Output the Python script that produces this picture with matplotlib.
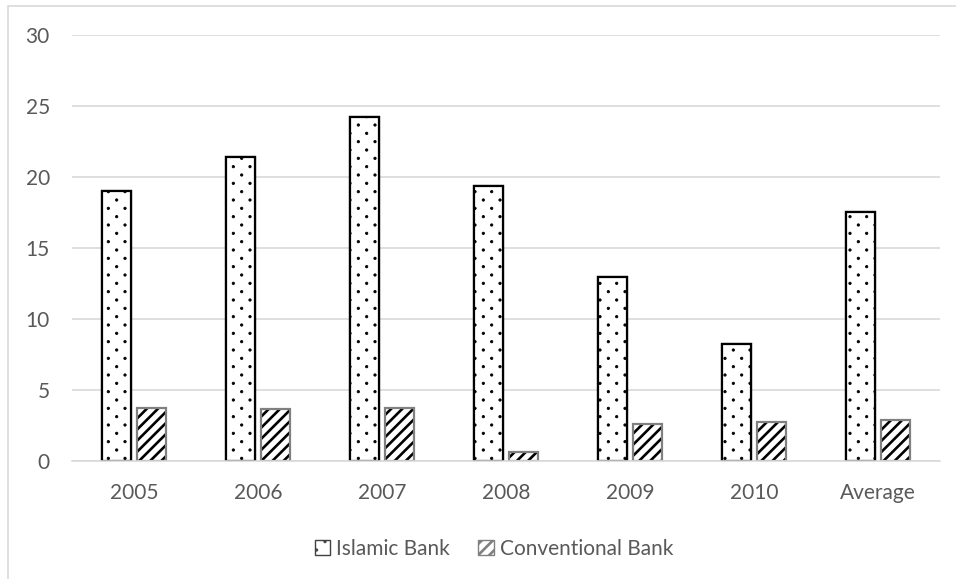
import matplotlib.pyplot as plt
import numpy as np
from matplotlib import hatch as mhatch
from matplotlib.patches import Rectangle

plt.rcParams['font.family'] = ['Lato', 'DejaVu Sans']

categories = ["2005", "2006", "2007", "2008", "2009", "2010", "Average"]
islamic = [19.0, 21.4, 24.2, 19.4, 12.95, 8.25, 17.55]
conventional = [3.75, 3.65, 3.75, 0.65, 2.6, 2.75, 2.9]

text_color = "#595959"
grid_color = "#d9d9d9"


class SparseDots(mhatch.Circles):
    """Small filled dots, staggered, twice as many rows as columns (Excel-like)."""
    size = 0.07
    filled = True

    def __init__(self, hatch, density):
        self.num_rows = hatch.count('.') * density
        super().__init__(hatch, density)
        n = self.num_rows
        if n:
            self.num_shapes = (n + 1) * (n + 1) + n * n
            self.num_vertices = self.num_shapes * len(self.shape_vertices)

    def set_vertices_and_codes(self, vertices, codes):
        n = self.num_rows
        step = 1.0 / n
        shape = self.shape_vertices * step * self.size
        parts_v, parts_c = [], []
        for row in range(2 * n + 1):
            if row % 2 == 0:
                cols = np.linspace(0, 1, n + 1)
            else:
                cols = np.linspace(step / 2, 1 - step / 2, n)
            for c in cols:
                parts_v.append(shape + [c, row * step / 2])
                parts_c.append(self.shape_codes)
        np.concatenate(parts_v, out=vertices)
        np.concatenate(parts_c, out=codes)


# swap matplotlib's '.' pattern for the sparser staggered one
mhatch._hatch_types = [SparseDots if t is mhatch.SmallFilledCircles else t
                       for t in mhatch._hatch_types]

fig = plt.figure(figsize=(9.56, 5.79), dpi=100)
ax = fig.add_axes([72 / 956, 118 / 579, 868 / 956, 426 / 579])

# chart frame (only left/top edges visible in the crop)
fig.patches.append(Rectangle((8 / 956, -0.1), 1.2, (579 - 6) / 579 + 0.1,
                             transform=fig.transFigure, fill=False,
                             edgecolor=grid_color, linewidth=1.2))

x = np.arange(len(categories))
w = 0.235
off = 0.143

# islamic bank: sparse dots, black outline
with plt.rc_context({'hatch.linewidth': 0.6}):
    ax.bar(x - off, islamic, w, color="white", edgecolor="black", hatch=".",
           linewidth=0, zorder=3)
    h1 = ax.bar(x - off, islamic, w, color="white", edgecolor="black", hatch=".",
                linewidth=1.6, zorder=2)
ax.bar(x - off, islamic, w, fill=False, edgecolor="black", linewidth=1.6, zorder=4)

# conventional bank: dense diagonal hatch, gray outline
with plt.rc_context({'hatch.linewidth': 1.9}):
    ax.bar(x + off, conventional, w, color="white", edgecolor="black", hatch="///",
           linewidth=0, zorder=3)
    h2 = ax.bar(x + off, conventional, w, color="white", edgecolor="black", hatch="///",
                linewidth=0, zorder=2)
ax.bar(x + off, conventional, w, fill=False, edgecolor="#808080", linewidth=1.6, zorder=4)

ax.set_xlim(-0.5, len(categories) - 0.5)
ax.set_ylim(0, 30)
ax.set_yticks(range(0, 31, 5))
ax.set_xticks(x)
ax.set_xticklabels(categories)
ax.grid(axis="y", color=grid_color, linewidth=1.2, zorder=0)
for s in ["top", "right", "left"]:
    ax.spines[s].set_visible(False)
ax.spines["bottom"].set_color(grid_color)
ax.spines["bottom"].set_linewidth(1.2)
ax.spines["bottom"].set_zorder(5)
ax.tick_params(axis="both", length=0, labelsize=15, labelcolor=text_color)
ax.tick_params(axis="y", pad=16)
ax.tick_params(axis="x", pad=16)

leg = fig.legend([h1, h2], ["Islamic Bank", "Conventional Bank"],
                 loc="center", bbox_to_anchor=(494 / 956, 1 - 549 / 579),
                 ncol=2, frameon=False, fontsize=15, labelcolor=text_color,
                 handlelength=0.75, handleheight=0.75, handletextpad=0.3,
                 columnspacing=1.35)
for p, ec, hlw in zip(leg.get_patches(), ["#404040", "#808080"], [0.6, 1.9]):
    p.set_edgecolor(ec)
    p.set_linewidth(1.0)
    if hasattr(p, "set_hatch_linewidth"):
        p.set_hatch_linewidth(hlw)

fig.savefig("out.png", dpi=100)
